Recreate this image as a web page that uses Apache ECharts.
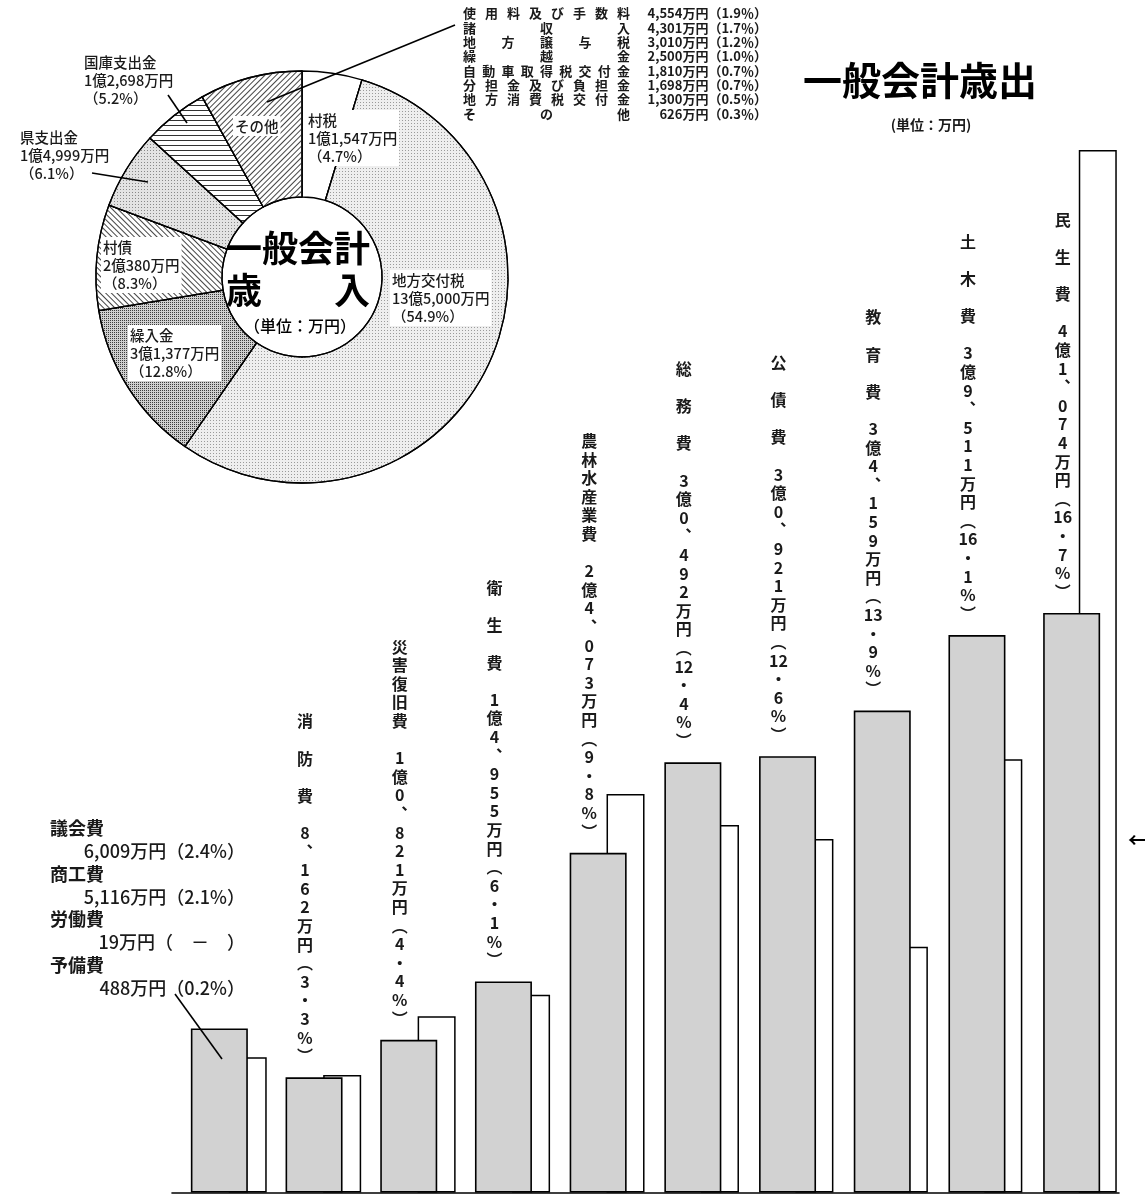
<!DOCTYPE html>
<html><head><meta charset="utf-8">
<script src="https://cdn.jsdelivr.net/npm/echarts@6/dist/echarts.min.js"></script>
<style>html,body{margin:0;padding:0;background:#fff}#c{width:1145px;height:1202px}</style>
</head><body><div id="c"></div>
<script>
// ---- 一般会計歳入 (万円) ----
const revNames = ['村税','地方交付税','繰入金','村債','県支出金','国庫支出金','その他'];
const revValues = [11547,135000,31377,20380,14999,12698,19799];
const revPct = ['4.7','54.9','12.8','8.3','6.1','5.2','8.0'];
// その他 の内訳
const otherNames = ['使用料及び手数料','諸収入','地方譲与税','繰越金','自動車取得税交付金','分担金及び負担金','地方消費税交付金','その他'];
const otherValues = [4554,4301,3010,2500,1810,1698,1300,626];
const otherPct = ['1.9','1.7','1.2','1.0','0.7','0.7','0.5','0.3'];
// ---- 一般会計歳出 (万円) ----
const expCategories = ['議会費等','消防費','災害復旧費','衛生費','農林水産業費','総務費','公債費','教育費','土木費','民生費'];
const expValues = [11632,8162,10821,14955,24073,30492,30921,34159,39511,41074];
const expPct = ['4.7','3.3','4.4','6.1','9.8','12.4','12.6','13.9','16.1','16.7'];
const expBack = [9580,8330,12490,14020,28250,26050,25060,17420,30700,73890];
// 最初の棒の内訳
const minorNames = ['議会費','商工費','労働費','予備費'];
const minorValues = [6009,5116,19,488];
const minorPct = ['2.4%','2.1%','　－　','0.2%'];

const F = '"Noto Sans CJK JP","Noto Sans",sans-serif';
const INK = '#1a1a1a';

function fmtOku(v){
  const o = Math.floor(v/10000), m = v % 10000;
  return (o ? o + '億' : '') + m.toLocaleString('en-US') + '万円';
}
function vertLabel(name, v, pct){
  const lines = [];
  const chars = [...name];
  if (chars.length <= 3) chars.forEach(c => { lines.push(c); lines.push(''); });
  else { chars.forEach(c => lines.push(c)); lines.push(''); }
  const o = Math.floor(v/10000), m = v % 10000;
  const s = o ? String(m).padStart(4,'0') : String(m);
  if (o) { lines.push(String(o)); lines.push('億'); }
  lines.push(s[0]); lines.push('︑');
  for (const c of s.slice(1)) lines.push(c);
  lines.push('万','円','︵');
  const [a,b] = pct.split('.');
  lines.push(a,'・',b,'%','︶');
  return lines.join('\n');
}

const pieFill = ['#ffffff','#eeeeee','#cfcfcf','#ffffff','#e3e3e3','#ffffff','#ffffff'];
const pieDecal = [
  null,
  {symbol:'rect', symbolSize:1, dashArrayX:[1,2], dashArrayY:[1,2], color:'#9a9a9a'},
  {symbol:'rect', symbolSize:1, dashArrayX:[1,1], dashArrayY:[1,1], color:'#3c3c3c'},
  {symbol:'rect', symbolSize:1, dashArrayX:[1,0], dashArrayY:[1,3], rotation:Math.PI/4, color:'#444'},
  {symbol:'rect', symbolSize:1, dashArrayX:[1,2], dashArrayY:[1,2], color:'#888'},
  {symbol:'rect', symbolSize:1, dashArrayX:[1,0], dashArrayY:[1,3.5], rotation:0, color:'#333'},
  {symbol:'rect', symbolSize:1, dashArrayX:[1,0], dashArrayY:[1,3], rotation:-Math.PI/4, color:'#444'}
];
const pieLabelPos = [[306,110],[390,270],[128,325],[101,237],[18,127],[82,52],[233,116]];

const graphics = [];
// leader lines
[[267,102,455,25],[168,95,187,123],[92,173,148,182],[175,994,222,1059]].forEach(l => {
  graphics.push({type:'line', z:100, shape:{x1:l[0],y1:l[1],x2:l[2],y2:l[3]}, style:{stroke:'#000', lineWidth:1.6}});
});
// その他 内訳リスト (均等割付)
otherNames.forEach((n, i) => {
  const y = 13.5 + i*14.3;
  const chars = [...n];
  const x0 = 463, x1 = 617;
  chars.forEach((c, j) => {
    const x = chars.length > 1 ? x0 + j*(x1-x0)/(chars.length-1) : x0;
    graphics.push({type:'text', z:100, x:x, y:y, style:{text:c, font:'bold 13px '+F, fill:INK, align:'left', verticalAlign:'middle'}});
  });
  graphics.push({type:'text', z:100, x:767, y:y, style:{text: otherValues[i].toLocaleString('en-US') + '万円（' + otherPct[i] + '％）', font:'bold 13px '+F, fill:INK, align:'right', verticalAlign:'middle'}});
});
// 議会費など
minorNames.forEach((n, i) => {
  const y = 828 + i*45.8;
  graphics.push({type:'text', z:100, x:50, y:y, style:{text:n, font:'bold 18px '+F, fill:INK, align:'left', verticalAlign:'middle'}});
  graphics.push({type:'text', z:100, x:245, y:y+22.9, style:{text: minorValues[i].toLocaleString('en-US') + '万円（' + minorPct[i] + '）', font:'500 18px '+F, fill:INK, align:'right', verticalAlign:'middle'}});
});
// center text of pie
graphics.push({type:'text', z:100, x:298, y:248, style:{text:'一般会計', font:'bold 36px '+F, fill:'#000', align:'center', verticalAlign:'middle'}});
graphics.push({type:'text', z:100, x:298, y:290, style:{text:'歳　　入', font:'bold 36px '+F, fill:'#000', align:'center', verticalAlign:'middle'}});
graphics.push({type:'text', z:100, x:300, y:326, style:{text:'（単位：万円）', font:'500 16px '+F, fill:'#000', align:'center', verticalAlign:'middle'}});
// arrow at right edge
graphics.push({type:'text', z:100, x:1128, y:840, style:{text:'←', font:'bold 20px '+F, fill:'#000', align:'left', verticalAlign:'middle'}});

const option = {
  animation:false,
  backgroundColor:'#ffffff',
  title:[
    {text:'一般会計歳出', left:915, top:56, textAlign:'center', textStyle:{fontFamily:F, fontSize:39, fontWeight:'bold', color:'#000'}},
    {text:'(単位：万円)', left:926, top:113, textAlign:'center', textStyle:{fontFamily:F, fontSize:14, fontWeight:'bold', color:INK}}
  ],
  grid:[
    {left:172, top:63.8, width:947, height:1128.7},
    {left:200.5, top:63.8, width:947, height:1128.7}
  ],
  xAxis:[
    {type:'category', gridIndex:0, data:expCategories, axisLine:{lineStyle:{color:'#000', width:1.6}}, axisTick:{show:false}, axisLabel:{show:false}},
    {type:'category', gridIndex:1, data:expCategories, show:false}
  ],
  yAxis:[
    {type:'value', gridIndex:0, min:0, max:80000, show:false},
    {type:'value', gridIndex:1, min:0, max:80000, show:false}
  ],
  series:[
    {type:'bar', xAxisIndex:1, yAxisIndex:1, z:1, barWidth:38, data:expBack,
     itemStyle:{color:'#ffffff', borderColor:'#000', borderWidth:1.5}, silent:true},
    {type:'bar', xAxisIndex:0, yAxisIndex:0, z:3, barWidth:57,
     data: expValues.map((v,i) => i === 0 ? {value:v, label:{show:false}} : v),
     itemStyle:{color:'#d2d2d2', borderColor:'#000', borderWidth:1.6},
     label:{show:true, position:'top', distance:12, offset:[-9,0], align:'center',
       fontFamily:F, fontSize:16, fontWeight:'bold', lineHeight:18.6, color:INK,
       formatter: p => vertLabel(expCategories[p.dataIndex], expValues[p.dataIndex], expPct[p.dataIndex])},
     silent:true},
    {type:'pie', center:[302,277], radius:[80,206], startAngle:90, clockwise:true, silent:true,
     avoidLabelOverlap:false, z:5,
     itemStyle:{borderColor:'#000', borderWidth:1.3},
     label:{show:true, position:'inside', fontFamily:F, fontSize:14.5, fontWeight:500, lineHeight:18, color:INK,
       backgroundColor:'#fff', padding:[1,2], align:'left',
       formatter: p => p.dataIndex === 6 ? p.name : p.name + '\n' + fmtOku(p.value) + '\n（' + revPct[p.dataIndex] + '%）'},
     labelLine:{show:false},
     labelLayout: p => ({x:pieLabelPos[p.dataIndex][0], y:pieLabelPos[p.dataIndex][1], align:'left', verticalAlign:'top'}),
     data: revNames.map((n,i) => ({name:n, value:revValues[i], itemStyle: Object.assign({color:pieFill[i]}, pieDecal[i] ? {decal:pieDecal[i]} : {})}))
    }
  ],
  graphic: graphics
};
const chart = echarts.init(document.getElementById('c'), null, {renderer:'canvas'});
chart.setOption(option);
</script>
</body></html>
